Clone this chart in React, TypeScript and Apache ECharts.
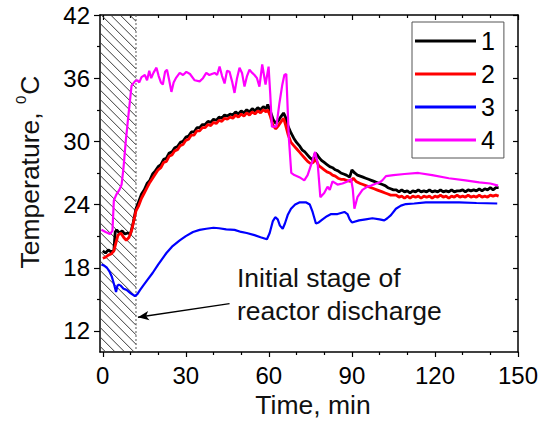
import React, { useEffect, useRef } from "react";
import * as echarts from "echarts";

const FONT = '"Liberation Sans", Arial, sans-serif';

const xMin = -1;
const xMax = 150;
const yMin = 10;
const yMax = 42;
const xMajor = [0, 30, 60, 90, 120, 150];
const xMinor = [10, 20, 40, 50, 70, 80, 100, 110, 130, 140];
const yMajor = [12, 18, 24, 30, 36, 42];
const yMinor = [15, 21, 27, 33, 39];

const legendNames = ["1", "2", "3", "4"];
const colors = ["#000000", "#ff0000", "#0000ff", "#ff00ff"];

// hatched "initial stage" region (min)
const hatchStart = -1;
const hatchEnd = 12;

// arrow annotation [time, temperature]
const arrowFrom = [45.8, 14.6];
const arrowTo = [12.7, 13.3];

const series1: [number, number][] = [
  [0, 19.6], [1, 19.4], [2, 19.7], [3, 19.5], [4, 19.6], [4.5, 21.4], [5, 21.6], [6, 21.3], [7, 21.5], [8, 21.2],
  [9, 21.3], [10, 21.2], [11, 22.3], [12, 23.6], [13, 24.3], [14, 25.0], [15, 25.4], [16, 26.0], [17, 26.3],
  [18, 26.9], [19, 27.2], [20, 27.6], [21, 27.8], [22, 28.3], [23, 28.4], [24, 28.9], [25, 29.0], [26, 29.4],
  [27, 29.5], [28, 29.9], [29, 30.0], [30, 30.4], [31, 30.5], [32, 30.9], [33, 30.9], [34, 31.3], [35, 31.3],
  [36, 31.6], [37, 31.6], [38, 31.9], [39, 31.8], [40, 32.1], [41, 32.0], [42, 32.3], [43, 32.2], [44, 32.5],
  [45, 32.4], [46, 32.6], [47, 32.5], [48, 32.8], [49, 32.6], [50, 32.9], [51, 32.7], [52, 33.0], [53, 32.8],
  [54, 33.1], [55, 32.9], [56, 33.2], [57, 33.0], [58, 33.3], [59, 33.1], [59.6, 33.5], [60.5, 32.9],
  [61.5, 32.1], [62.5, 31.7], [63.5, 32.0], [64.5, 32.4], [65.3, 32.7], [66, 32.3], [67, 31.4], [68, 30.8],
  [69, 30.3], [70, 29.9], [71, 29.6], [72, 29.2], [73, 29.0], [74, 28.7], [75, 28.4], [76, 28.2], [76.8, 28.9],
  [77.5, 28.7], [78, 28.5], [79, 28.2], [80, 28.0], [81, 27.8], [82, 27.6], [83, 27.5], [84, 27.3], [85, 27.2],
  [86, 27.0], [87, 26.9], [88, 26.8], [89.2, 26.6], [90, 27.3], [91, 27.0], [92, 26.8], [93, 26.7], [94, 26.6],
  [95, 26.5], [96, 26.4], [97, 26.3], [98, 26.2], [99, 26.1], [100, 26.0], [101, 25.9], [102, 25.8], [103, 25.6],
  [104, 25.5], [105, 25.4], [106, 25.4], [107, 25.2], [108, 25.4], [109, 25.2], [110, 25.3], [111, 25.1],
  [112, 25.3], [113, 25.2], [114, 25.4], [115, 25.2], [116, 25.3], [117, 25.2], [118, 25.4], [119, 25.2],
  [120, 25.3], [121, 25.2], [122, 25.4], [123, 25.2], [124, 25.3], [125, 25.2], [126, 25.4], [127, 25.2],
  [128, 25.3], [129, 25.3], [130, 25.4], [131, 25.2], [132, 25.4], [133, 25.3], [134, 25.4], [135, 25.3],
  [136, 25.5], [137, 25.3], [138, 25.5], [139, 25.4], [140, 25.6], [141, 25.4], [142, 25.6], [143, 25.6],
];

const series2: [number, number][] = [
  [0, 18.9], [1, 19.0], [2, 19.2], [3, 19.3], [4, 19.6], [4.8, 20.4], [5.5, 21.1], [6.5, 21.3], [7.5, 20.9],
  [8.5, 20.6], [9.5, 20.9], [10.5, 21.6], [11.5, 22.8], [12, 23.4], [13, 23.9], [14, 24.6], [15, 25.1],
  [16, 25.6], [17, 26.1], [18, 26.5], [19, 26.9], [20, 27.3], [21, 27.5], [22, 28.0], [23, 28.1], [24, 28.6],
  [25, 28.7], [26, 29.1], [27, 29.2], [28, 29.6], [29, 29.7], [30, 30.1], [31, 30.2], [32, 30.6], [33, 30.6],
  [34, 31.0], [35, 31.0], [36, 31.3], [37, 31.3], [38, 31.6], [39, 31.5], [40, 31.8], [41, 31.7], [42, 32.0],
  [43, 31.9], [44, 32.2], [45, 32.1], [46, 32.3], [47, 32.2], [48, 32.5], [49, 32.3], [50, 32.6], [51, 32.4],
  [52, 32.7], [53, 32.5], [54, 32.8], [55, 32.6], [56, 32.9], [57, 32.7], [58, 33.0], [59, 32.8], [59.6, 33.0],
  [60.5, 32.4], [61.5, 31.5], [62.5, 31.2], [63.5, 31.5], [64.5, 31.9], [65.3, 32.2], [66, 31.6], [67, 30.6],
  [68, 29.9], [69, 29.6], [70, 29.3], [71, 29.0], [72, 28.7], [73, 28.4], [74, 28.1], [75, 27.9], [76, 28.0],
  [76.8, 28.3], [77.5, 28.0], [78, 27.7], [79, 27.5], [80, 27.3], [81, 27.1], [82, 27.0], [83, 26.8], [84, 26.7],
  [85, 26.5], [86, 26.4], [87, 26.4], [88, 26.3], [89.5, 26.2], [90.5, 26.5], [91.5, 26.2], [93, 26.0],
  [94, 25.9], [95, 25.8], [96, 25.7], [97, 25.6], [98, 25.5], [99, 25.4], [100, 25.3], [101, 25.2], [102, 25.1],
  [103, 25.0], [104, 24.9], [105, 24.9], [106, 24.9], [107, 24.7], [108, 24.8], [109, 24.6], [110, 24.8],
  [111, 24.6], [112, 24.8], [113, 24.7], [114, 24.8], [115, 24.6], [116, 24.8], [117, 24.7], [118, 24.8],
  [119, 24.6], [120, 24.8], [121, 24.7], [122, 24.9], [123, 24.7], [124, 24.8], [125, 24.6], [126, 24.8],
  [127, 24.7], [128, 24.9], [129, 24.7], [130, 24.8], [131, 24.7], [132, 24.9], [133, 24.7], [134, 24.8],
  [135, 24.7], [136, 24.9], [137, 24.7], [138, 24.8], [139, 24.7], [140, 24.9], [141, 24.8], [142, 24.9],
  [143, 24.8],
];

const series3: [number, number][] = [
  [-0.5, 18.3], [0.5, 18.2], [1.5, 18.0], [2.5, 17.6], [3.2, 17.2], [4, 16.5], [4.8, 15.7], [5.3, 16.3],
  [5.8, 16.4], [6.5, 16.3], [7.5, 16.0], [8.6, 15.9], [10, 15.6], [11.6, 15.3], [12.5, 15.5], [13.5, 15.9],
  [14.6, 16.3], [16, 16.8], [18, 17.5], [20, 18.3], [23, 19.4], [25, 20.0], [27.8, 20.6], [30, 21.0],
  [32.6, 21.4], [35, 21.6], [37.4, 21.7], [40, 21.8], [42, 21.75], [44.6, 21.65], [47.6, 21.6], [50, 21.4],
  [52, 21.3], [54.8, 21.1], [57, 20.9], [59.3, 20.7], [60.3, 21.3], [61.4, 22.4], [62.3, 22.8], [63.2, 22.6],
  [64, 22.0], [65, 21.7], [65.8, 22.2], [66.8, 23.0], [68, 23.6], [69.5, 24.0], [71, 24.2], [73.5, 24.2],
  [74.8, 24.0], [75.8, 23.3], [77, 22.2], [78, 22.3], [79.4, 22.6], [81, 22.9], [82.5, 23.1], [84.8, 23.1],
  [87.3, 23.3], [88.4, 23.1], [89.2, 22.6], [90, 22.3], [92.6, 22.5], [95, 22.6], [97.4, 22.7], [100, 22.6],
  [101.7, 22.5], [102.8, 22.7], [104.1, 23.0], [105.9, 23.6], [107.7, 23.9], [109.5, 24.05], [112.5, 24.1],
  [116.7, 24.2], [122, 24.2], [128.7, 24.2], [135, 24.15], [142.5, 24.1],
];

const series4: [number, number][] = [
  [-0.5, 21.6], [1, 21.4], [2.6, 21.2], [3.5, 21.5], [4, 24.4], [5, 25.0], [6, 25.4], [6.8, 25.9], [7.5, 27.5],
  [8.3, 30.0], [9.2, 32.3], [10.4, 35.3], [11.6, 35.7], [12.5, 35.8], [13.2, 35.6], [14, 36.1], [15.2, 36.3],
  [16, 35.8], [16.8, 36.7], [17.5, 36.0], [18.3, 36.5], [19.4, 37.0], [20.2, 36.2], [21, 35.6], [21.7, 35.4],
  [22.5, 36.6], [23.2, 36.8], [24, 35.8], [24.8, 34.7], [25.6, 35.6], [26.4, 36.0], [27.8, 36.5], [29, 36.3],
  [30.2, 36.6], [31.5, 36.4], [33.2, 35.8], [35, 35.7], [36.2, 36.0], [37.4, 36.5], [38.5, 36.3], [39.4, 36.4],
  [40.4, 36.5], [41.3, 36.3], [42.2, 37.1], [43.1, 36.2], [44, 35.5], [44.9, 36.7], [45.8, 36.6], [46.7, 35.7],
  [47.6, 34.6], [48.5, 36.0], [49.4, 37.0], [50.3, 36.5], [51.2, 35.2], [52.1, 36.2], [53, 36.8], [54, 36.5],
  [54.8, 36.3], [55.7, 36.0], [56.6, 35.2], [57.6, 37.3], [58.8, 35.4], [59.9, 37.1], [60.5, 34.5],
  [61.1, 31.4], [62.7, 31.4], [63.8, 33.6], [64.8, 35.3], [65.6, 36.3], [66.3, 36.4], [67.2, 30.4],
  [68.1, 27.0], [69.2, 26.8], [71, 26.6], [72.8, 26.3], [74, 26.8], [75.8, 28.2], [76.7, 29.0], [77.6, 28.0],
  [78.6, 24.7], [80, 25.1], [81.2, 25.7], [82, 25.4], [83, 26.2], [84.8, 25.9], [86.6, 26.0], [88.4, 26.2],
  [89.7, 26.4], [90.3, 25.5], [90.9, 23.6], [92, 24.7], [93.8, 25.4], [95.6, 25.7], [97, 25.8], [98.7, 26.0],
  [100, 26.1], [101, 26.3], [102.3, 26.7], [105, 26.8], [109, 26.9], [114, 27.0], [119, 26.8], [125, 26.5],
  [131, 26.3], [136, 26.1], [140, 26.0], [142.8, 25.8],
];

const seriesData = [series1, series2, series3, series4];

export default function App() {
  const ref = useRef<HTMLDivElement>(null);
  useEffect(() => {
    if (!ref.current) return;
    const chart = echarts.init(ref.current, undefined, { renderer: "svg" });

    const axisLineStyle = { color: "#000", width: 1.5 };
    const tickStyle = { color: "#000", width: 1.2 };

    const mkX = (pos: string, vals: number[], len: number, inside: boolean, line: boolean, labels: boolean) => ({
      type: "value",
      min: xMin,
      max: xMax,
      position: pos,
      axisLine: { show: line, onZero: false, lineStyle: axisLineStyle },
      axisTick: { show: true, customValues: vals, length: len, inside, lineStyle: tickStyle },
      axisLabel: labels
        ? { show: true, customValues: vals, fontSize: 24, color: "#000", fontFamily: FONT, margin: 11 }
        : { show: false },
      splitLine: { show: false },
    });
    const mkY = (pos: string, vals: number[], len: number, inside: boolean, line: boolean, labels: boolean) => ({
      type: "value",
      min: yMin,
      max: yMax,
      position: pos,
      axisLine: { show: line, onZero: false, lineStyle: axisLineStyle },
      axisTick: { show: true, customValues: vals, length: len, inside, lineStyle: tickStyle },
      axisLabel: labels
        ? { show: true, customValues: vals, fontSize: 24, color: "#000", fontFamily: FONT, margin: 10 }
        : { show: false },
      splitLine: { show: false },
    });

    const lineSeries = seriesData.map((d, i) => ({
      name: legendNames[i],
      type: "line",
      data: d,
      xAxisIndex: 0,
      yAxisIndex: 0,
      symbol: "none",
      showSymbol: false,
      color: colors[i],
      lineStyle: { color: colors[i], width: i < 2 ? 2.8 : 2.2 },
      z: 3 + i,
      ...(i === 2
        ? {
            markLine: {
              silent: true,
              symbol: ["none", "arrow"],
              symbolSize: [7, 11],
              label: { show: false },
              lineStyle: { color: "#000", width: 1.3, type: "solid" },
              data: [[{ coord: arrowFrom }, { coord: arrowTo }]],
            },
          }
        : {}),
    }));

    const hatchSeries = {
      type: "custom",
      silent: true,
      z: 1,
      xAxisIndex: 0,
      yAxisIndex: 0,
      data: [[hatchStart, hatchEnd]],
      renderItem: (params: any, api: any) => {
        const p0 = api.coord([hatchStart, yMax]);
        const p1 = api.coord([hatchEnd, yMin]);
        const x0 = p0[0], yTop = p0[1], x1 = p1[0], yBot = p1[1];
        const W = x1 - x0, H = yBot - yTop;
        const step = 9.5;
        const children: any[] = [];
        for (let c = step * 0.6; c < W + H; c += step) {
          const uA = Math.max(0, c - H);
          const uB = Math.min(W, c);
          if (uB <= uA) continue;
          children.push({
            type: "line",
            shape: { x1: x0 + uA, y1: yBot - (c - uA), x2: x0 + uB, y2: yBot - (c - uB) },
            style: { stroke: "#3a3a3a", lineWidth: 1 },
          });
        }
        children.push({
          type: "line",
          shape: { x1: x1, y1: yTop, x2: x1, y2: yBot },
          style: { stroke: "#555", lineWidth: 1, lineDash: [2, 2] },
        });
        return { type: "group", children };
      },
    };

    chart.setOption({
      animation: false,
      backgroundColor: "#fff",
      grid: { left: 100, right: 24, top: 15, bottom: 69 },
      xAxis: [
        mkX("bottom", xMajor, 5, false, true, true),
        mkX("bottom", xMinor, 3, false, false, false),
        mkX("top", xMajor, 5, true, true, false),
        mkX("top", xMinor, 3, true, false, false),
      ],
      yAxis: [
        mkY("left", yMajor, 6, false, true, true),
        mkY("left", yMinor, 3, false, false, false),
        mkY("right", yMajor, 5, true, true, false),
        mkY("right", yMinor, 3, true, false, false),
      ],
      legend: {
        data: legendNames,
        orient: "vertical",
        left: 412,
        top: 22,
        padding: [6, 9, 5, 3],
        icon: "rect",
        itemWidth: 61,
        itemHeight: 3,
        itemGap: 7,
        borderColor: "#555",
        borderWidth: 1,
        backgroundColor: "#fff",
        textStyle: { fontSize: 25, color: "#000", fontFamily: FONT, lineHeight: 26 },
      },
      graphic: [
        {
          type: "text",
          x: 237,
          y: 278,
          style: { text: "Initial stage of", font: `26.5px ${FONT}`, fill: "#111", align: "left", verticalAlign: "middle" },
        },
        {
          type: "text",
          x: 237,
          y: 311,
          style: { text: "reactor discharge", font: `26.5px ${FONT}`, fill: "#111", align: "left", verticalAlign: "middle" },
        },
        {
          type: "text",
          x: 313,
          y: 405,
          style: { text: "Time, min", font: `26.5px ${FONT}`, fill: "#111", align: "center", verticalAlign: "middle" },
        },
        {
          type: "text",
          x: 28,
          y: 172,
          rotation: Math.PI / 2,
          style: {
            text: "{a|Temperature, }{s|0}{a|C}",
            align: "center",
            verticalAlign: "middle",
            rich: {
              a: { fontSize: 26.5, fontFamily: FONT, fill: "#111", lineHeight: 30, verticalAlign: "bottom" },
              s: { fontSize: 15, fontFamily: FONT, fill: "#111", lineHeight: 30, verticalAlign: "top", padding: [0, 1, 12, 1] },
            },
          },
        },
      ],
      series: [hatchSeries, ...lineSeries],
    });
    return () => chart.dispose();
  }, []);
  return <div ref={ref} style={{ position: "fixed", left: 0, top: 0, width: 542, height: 421 }} />;
}
